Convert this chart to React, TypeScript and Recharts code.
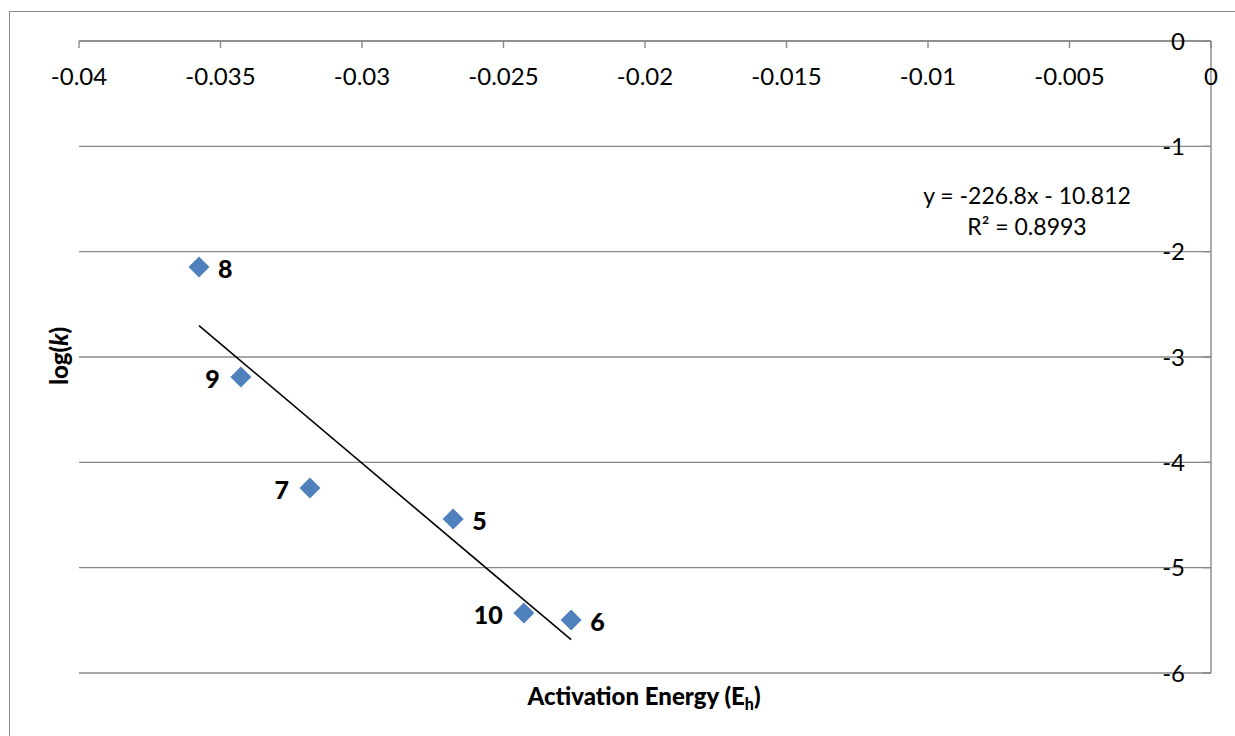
import { ScatterChart, Scatter, XAxis, YAxis, CartesianGrid, LabelList } from "recharts";

// points
const pointNames = ["8", "9", "7", "5", "10", "6"];
const activationEnergy = [-0.03576, -0.03428, -0.03184, -0.02678, -0.02428, -0.02261];
const logK = [-2.146, -3.19, -4.244, -4.538, -5.43, -5.497];

// trendline ends (first and last point)
const trendX = [-0.03576, -0.02261];
const trendY = [-2.702, -5.684];

const xTicks = [-0.04, -0.035, -0.03, -0.025, -0.02, -0.015, -0.01, -0.005, 0];
const yTicks = [0, -1, -2, -3, -4, -5, -6];

const equationText = "y = -226.8x - 10.812";
const rSquaredText = "R² = 0.8993";

const points = pointNames.map((name, i) => ({ name, x: activationEnergy[i], y: logK[i] }));
const trend = trendX.map((x, i) => ({ x, y: trendY[i] }));

const leftLabels = new Set(["9", "7", "10"]);
const FONT = "Lato, 'Open Sans', sans-serif";
const GRID = "#898989";

const Diamond = (props: any) => {
  const { cx, cy } = props;
  const r = 10.5;
  return (
    <polygon
      points={`${cx},${cy - r} ${cx + r},${cy} ${cx},${cy + r} ${cx - r},${cy}`}
      fill="#4F81BD"
    />
  );
};

const PointLabel = (props: any) => {
  const vb = props.viewBox || props;
  const cx = vb.x + (vb.width || 0) / 2;
  const cy = vb.y + (vb.height || 0) / 2;
  const left = leftLabels.has(String(props.value));
  return (
    <text
      x={left ? cx - 21 : cx + 19}
      y={cy + 2}
      dy="0.36em"
      textAnchor={left ? "end" : "start"}
      fontFamily={FONT}
      fontWeight={900}
      fontSize={25}
      fill="#000"
    >
      {props.value}
    </text>
  );
};

export default function App() {
  return (
    <div
      style={{
        position: "absolute",
        left: 0,
        top: 0,
        width: 1235,
        height: 736,
        overflow: "hidden",
        background: "#fff",
        fontFamily: FONT,
      }}
    >
      {/* outer chart frame, cut off at right and bottom */}
      <div
        style={{
          position: "absolute",
          left: 9,
          top: 11,
          width: 1300,
          height: 800,
          borderLeft: "1.5px solid #8a8a8a",
          borderTop: "1.5px solid #8a8a8a",
        }}
      />
      <ScatterChart
        width={1235}
        height={736}
        margin={{ top: 41, right: 24, bottom: 63, left: 79 }}
        style={{ position: "absolute", left: 0, top: 0 }}
      >
        <CartesianGrid vertical={false} stroke={GRID} strokeWidth={1.4} />
        <XAxis
          type="number"
          dataKey="x"
          orientation="top"
          mirror
          domain={[-0.04, 0]}
          ticks={xTicks}
          interval={0}
          tickFormatter={(v) => String(v)}
          axisLine={{ stroke: GRID, strokeWidth: 1.4 }}
          tickLine={{ stroke: GRID, strokeWidth: 1.4 }}
          tickSize={7}
          tickMargin={20}
          tick={{ fill: "#000", fontSize: 24, fontFamily: FONT }}
          allowDataOverflow
        />
        <YAxis
          type="number"
          dataKey="y"
          orientation="right"
          mirror
          domain={[-6, 0]}
          ticks={yTicks}
          interval={0}
          tickFormatter={(v) => String(v)}
          axisLine={{ stroke: GRID, strokeWidth: 1.4 }}
          tickLine={{ stroke: GRID, strokeWidth: 1.4 }}
          tickSize={8}
          tickMargin={18}
          tick={{ fill: "#000", fontSize: 24, fontFamily: FONT }}
          allowDataOverflow
        />
        <Scatter
          data={trend}
          line={{ stroke: "#000", strokeWidth: 1.6 }}
          shape={() => <g />}
          isAnimationActive={false}
        />
        <Scatter data={points} shape={Diamond} isAnimationActive={false}>
          <LabelList dataKey="name" content={PointLabel} />
        </Scatter>
      </ScatterChart>

      {/* trendline equation */}
      <div
        style={{
          position: "absolute",
          left: 1027 - 150,
          top: 180,
          width: 300,
          textAlign: "center",
          fontSize: 23,
          lineHeight: "31px",
          color: "#000",
        }}
      >
        <div>{equationText}</div>
        <div>{rSquaredText}</div>
      </div>

      {/* y axis title */}
      <div
        style={{
          position: "absolute",
          left: 59 - 60,
          top: 356 - 15,
          width: 120,
          height: 30,
          lineHeight: "30px",
          textAlign: "center",
          transform: "rotate(-90deg)",
          fontWeight: 900,
          fontSize: 24,
          color: "#000",
        }}
      >
        log(<i>k</i>)
      </div>

      {/* x axis title */}
      <div
        style={{
          position: "absolute",
          left: 644 - 200,
          top: 681,
          width: 400,
          textAlign: "center",
          fontWeight: 900,
          fontSize: 24,
          lineHeight: "30px",
          color: "#000",
        }}
      >
        Activation Energy (E<sub style={{ fontSize: 16, verticalAlign: "-5px" }}>h</sub>)
      </div>
    </div>
  );
}
